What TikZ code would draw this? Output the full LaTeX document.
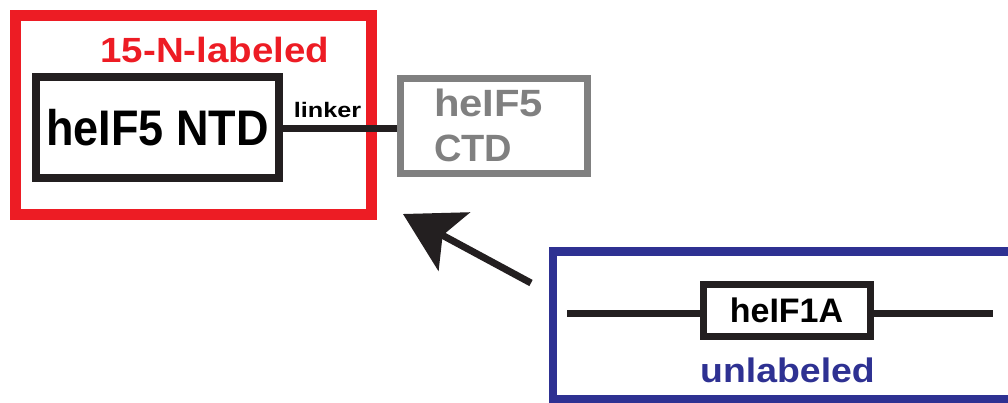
\documentclass[tikz,border=0pt]{standalone}
\usepackage{fontspec}
\setmainfont{Liberation Sans}
\newfontfamily\narrowsf[FakeStretch=0.9]{Liberation Sans}
\newfontfamily\widesf[FakeStretch=1.1]{Liberation Sans}
\newfontfamily\widersf[FakeStretch=1.2]{Liberation Sans}
\usetikzlibrary{arrows.meta}
\definecolor{labred}{HTML}{ED1C24}
\definecolor{unlabblue}{HTML}{2E3192}
\definecolor{ctdgray}{HTML}{808080}
\definecolor{inkblack}{HTML}{231F20}
\tikzset{
	groupbox/.style={draw, rectangle, inner sep=0pt},
	domainbox/.style={draw=inkblack, rectangle, inner sep=0pt, line width=7pt},
	bond/.style={draw=inkblack, line width=6.5pt},
	tag/.style={font=\bfseries\fontsize{#1}{#1}\selectfont, inner sep=0pt, anchor=base}
}
\begin{document}
\begin{tikzpicture}[x=1pt, y=-1pt]
	\clip (0,0) rectangle (1008,402);
	\node [groupbox, draw=labred, line width=11pt, minimum width=356, minimum height=199.5] (nlab) at (193,114.75) {};
	\node [tag=35, text=labred] (nlabtext) at (215,62) {\widesf 15-N-labeled};
	\node [domainbox, line width=8pt, minimum width=243, minimum height=101, font=\narrowsf\bfseries\fontsize{50}{50}\selectfont] (ntd) at (157.5,127.5) {heIF5 NTD};
	\node [domainbox, draw=ctdgray, text=ctdgray, minimum width=187.5, minimum height=95.5, text width=120pt, align=left, font=\bfseries\fontsize{38}{45}\selectfont] (ctd) at (494,125.75) {{\widesf heIF5}\\CTD};
	\draw [bond] (ntd.east |- 0,128.5) -- (ctd.west |- 0,128.5);
	\node [tag=21, font=\widersf\bfseries\fontsize{21}{21}\selectfont] (linkertext) at (327.5,117) {linker};
	\node [groupbox, draw=unlabblue, line width=8.5pt, minimum width=477, minimum height=148] (unlab) at (791.5,325.5) {};
	\node [domainbox, minimum width=167, minimum height=52, font=\bfseries\fontsize{34}{34}\selectfont] (eif) at (786.5,310) {heIF1A};
	\coordinate (eifleft) at (567,313);
	\coordinate (eifright) at (993,313);
	\draw [bond, line width=7pt] (eifleft) -- (eif.west |- eifleft);
	\draw [bond, line width=7pt] (eif.east |- eifright) -- (eifright);
	\node [tag=34, text=unlabblue] (unlabtext) at (787.5,382) {\widesf unlabeled};
	\coordinate (arrowtail) at (531,283);
	\coordinate (arrowtip) at (403,214);
	\draw [draw=inkblack, line width=7pt, -{Stealth[length=58pt, width=66pt, inset=13pt]}] (arrowtail) -- (arrowtip);
\end{tikzpicture}
\end{document}
